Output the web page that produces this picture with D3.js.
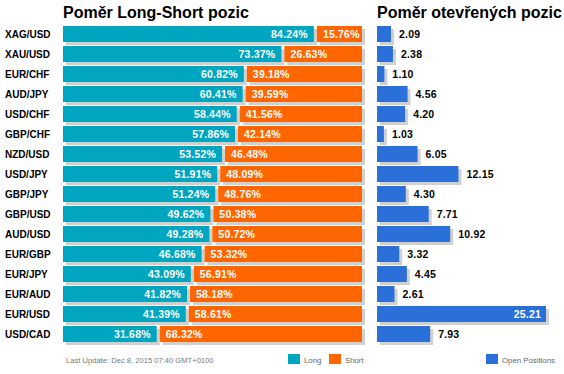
<!DOCTYPE html>
<html>
<head>
<meta charset="utf-8">
<script src="https://cdn.jsdelivr.net/npm/d3@7"></script>
<style>
  body { margin: 0; background: #fff; }
  svg { font-family: "Liberation Sans", Arial, sans-serif; display: block; }
</style>
</head>
<body>
<svg width="564" height="374"></svg>
<script>
var pairs = ["XAG/USD", "XAU/USD", "EUR/CHF", "AUD/JPY", "USD/CHF", "GBP/CHF", "NZD/USD", "USD/JPY",
             "GBP/JPY", "GBP/USD", "AUD/USD", "EUR/GBP", "EUR/JPY", "EUR/AUD", "EUR/USD", "USD/CAD"];
var longPct = [84.24, 73.37, 60.82, 60.41, 58.44, 57.86, 53.52, 51.91, 51.24, 49.62, 49.28, 46.68, 43.09, 41.82, 41.39, 31.68];
var shortPct = [15.76, 26.63, 39.18, 39.59, 41.56, 42.14, 46.48, 48.09, 48.76, 50.38, 50.72, 53.32, 56.91, 58.18, 58.61, 68.32];
var openPos = [2.09, 2.38, 1.10, 4.56, 4.20, 1.03, 6.05, 12.15, 4.30, 7.71, 10.92, 3.32, 4.45, 2.61, 25.21, 7.93];

var svg = d3.select("svg");

var colors = { long: "#00a6c0", short: "#ff6600", open: "#2a70d8", shadow: "#d0d0d0" };

var rows = pairs.map((p, i) => ({ pair: p, long: longPct[i], short: shortPct[i], open: openPos[i] }));

var y = d3.scaleBand()
    .domain(pairs)
    .range([26, 342])
    .paddingInner(0.2)
    .paddingOuter(0);

var x = d3.scaleLinear()
    .domain([0, 100])
    .range([63, 362]);

var x2 = d3.scaleLinear()
    .domain([0, d3.max(openPos)])
    .range([377, 546]);

var bh = y.bandwidth();

// titles
svg.append("text")
    .attr("x", 63).attr("y", 18)
    .attr("font-size", 16).attr("font-weight", "bold")
    .text("Poměr Long-Short pozic");

svg.append("text")
    .attr("x", 377).attr("y", 18)
    .attr("font-size", 16).attr("font-weight", "bold")
    .text("Poměr otevřených pozic");

// pair labels
svg.append("g")
    .selectAll("text")
    .data(rows)
    .enter().append("text")
        .attr("x", 5)
        .attr("y", d => y(d.pair) + bh / 2)
        .attr("dy", "0.35em")
        .attr("font-size", 10)
        .attr("font-weight", "bold")
        .text(d => d.pair);

// long / short bars
var ls = svg.append("g")
    .selectAll("g")
    .data(rows)
    .enter().append("g")
        .attr("transform", d => `translate(0, ${y(d.pair)})`);

ls.append("rect")
    .attr("x", x(0) + 3).attr("y", 3)
    .attr("width", d => x(d.long) - x(0) - 1)
    .attr("height", bh)
    .attr("fill", colors.shadow);

ls.append("rect")
    .attr("x", x(0))
    .attr("width", d => x(d.long) - x(0) - 1)
    .attr("height", bh)
    .attr("fill", colors.long);

ls.append("rect")
    .attr("x", d => x(d.long) + 2 + 3).attr("y", 3)
    .attr("width", d => x(100) - x(d.long) - 2)
    .attr("height", bh)
    .attr("fill", colors.shadow);

ls.append("rect")
    .attr("x", d => x(d.long) + 2)
    .attr("width", d => x(100) - x(d.long) - 2)
    .attr("height", bh)
    .attr("fill", colors.short);

ls.append("text")
    .attr("x", d => x(d.long) - 7)
    .attr("y", bh / 2)
    .attr("dy", "0.36em")
    .attr("text-anchor", "end")
    .attr("fill", "#fff")
    .attr("font-size", 10.5)
    .attr("font-weight", "bold")
    .attr("letter-spacing", 0.2)
    .text(d => d.long.toFixed(2) + "%");

ls.append("text")
    .attr("x", d => x(d.long) + 8)
    .attr("y", bh / 2)
    .attr("dy", "0.36em")
    .attr("fill", "#fff")
    .attr("font-size", 10.5)
    .attr("font-weight", "bold")
    .attr("letter-spacing", 0.2)
    .text(d => d.short.toFixed(2) + "%");

// open positions bars
var op = svg.append("g")
    .selectAll("g")
    .data(rows)
    .enter().append("g")
        .attr("transform", d => `translate(0, ${y(d.pair)})`);

op.append("rect")
    .attr("x", x2(0) + 3).attr("y", 3)
    .attr("width", d => x2(d.open) - x2(0))
    .attr("height", bh)
    .attr("fill", colors.shadow);

op.append("rect")
    .attr("x", x2(0))
    .attr("width", d => x2(d.open) - x2(0))
    .attr("height", bh)
    .attr("fill", colors.open);

var inside = d => x2(d.open) + 38 > 560;

op.append("text")
    .attr("x", d => inside(d) ? x2(d.open) - 5 : x2(d.open) + 8)
    .attr("y", bh / 2)
    .attr("dy", "0.36em")
    .attr("text-anchor", d => inside(d) ? "end" : "start")
    .attr("fill", d => inside(d) ? "#fff" : "#000")
    .attr("font-size", 10.5)
    .attr("font-weight", "bold")
    .attr("letter-spacing", 0.2)
    .text(d => d.open.toFixed(2));

// footer
svg.append("text")
    .attr("x", 66).attr("y", 363)
    .attr("font-size", 7.6)
    .attr("fill", "#777")
    .text("Last Update: Dec 8, 2015 07:40 GMT+0100");

var legendItems = [
    { label: "Long", color: colors.long, x: 288 },
    { label: "Short", color: colors.short, x: 329 },
    { label: "Open Positions", color: colors.open, x: 486 }
];

var legend = svg.append("g")
    .selectAll("g")
    .data(legendItems)
    .enter().append("g")
        .attr("transform", d => `translate(${d.x}, 354)`);

legend.append("rect")
    .attr("width", 12)
    .attr("height", 10)
    .attr("fill", d => d.color);

legend.append("text")
    .attr("x", 16)
    .attr("y", 9)
    .attr("font-size", 7.8)
    .attr("fill", "#666")
    .text(d => d.label);
</script>
</body>
</html>
